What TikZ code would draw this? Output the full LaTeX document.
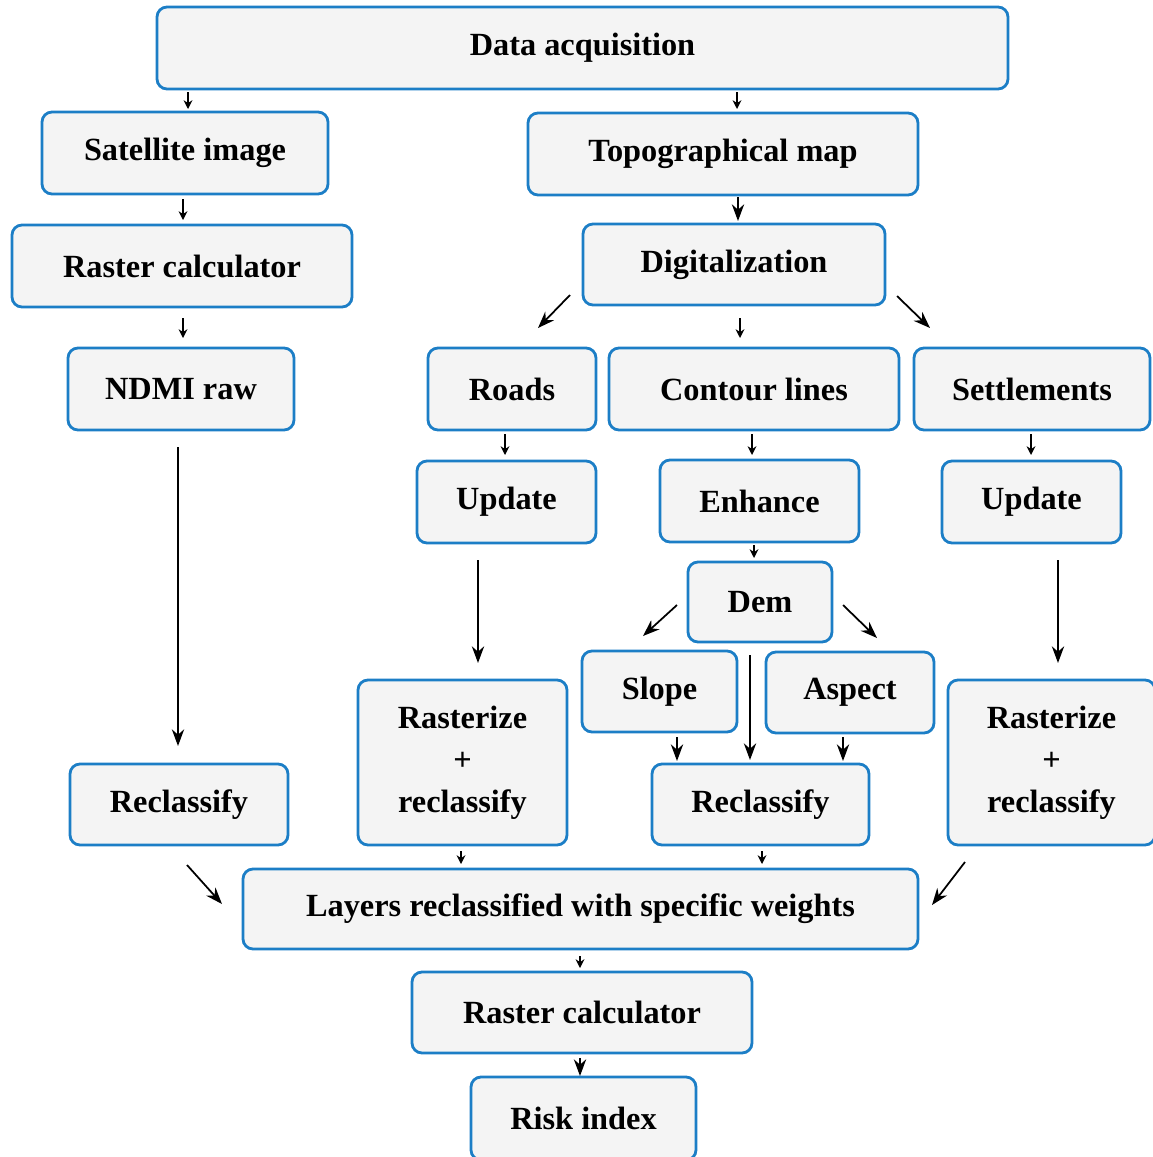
\documentclass[tikz,border=0pt]{standalone}
\usepackage{fontspec}
\setmainfont{Liberation Serif}
\usetikzlibrary{arrows.meta}
\definecolor{bord}{RGB}{28,126,198}
\definecolor{fillc}{RGB}{244,244,244}
\newcommand\mybox[6]{\node[box, minimum width={(#4-#2)*0.02cm}, minimum height={(#5-#3)*0.02cm}] (#1) at ({(#2+#4)/2},{(#3+#5)/2}) {#6};}
\tikzset{
  box/.style={draw=bord, fill=fillc, line width=1.6pt, rounded corners=0.2cm, inner sep=0pt,
    font=\bfseries\fontsize{18.4}{24}\selectfont, align=center},
  arrs/.style={-{Stealth[length=5pt,width=5pt]}, line width=0.9pt},
  arrl/.style={-{Stealth[length=9.5pt,width=7pt]}, line width=1pt},
}
\begin{document}
\begin{tikzpicture}[x=0.02cm,y=-0.02cm]
\useasboundingbox (0,0) rectangle (1153,1157);
\mybox{acq}{157}{7}{1008}{89}{Data acquisition}
\mybox{sat}{42}{112}{328}{194}{Satellite image}
\mybox{topo}{528}{113}{918}{195}{Topographical map}
\mybox{rcl}{12}{225}{352}{307}{Raster calculator}
\mybox{dig}{583}{224}{885}{305}{Digitalization}
\mybox{ndmi}{68}{348}{294}{430}{NDMI raw}
\mybox{roads}{428}{348}{596}{430}{Roads}
\mybox{cont}{609}{348}{899}{430}{Contour lines}
\mybox{sett}{914}{348}{1150}{430}{Settlements}
\mybox{upl}{417}{461}{596}{543}{Update}
\mybox{enh}{660}{460}{859}{542}{Enhance}
\mybox{upr}{942}{461}{1121}{543}{Update}
\mybox{dem}{688}{562}{832}{642}{Dem}
\mybox{slope}{582}{651}{737}{732}{Slope}
\mybox{aspect}{766}{652}{934}{733}{Aspect}
\mybox{rasl}{358}{680}{567}{845}{Rasterize\\+\\reclassify}
\mybox{rasr}{948}{680}{1155}{845}{Rasterize\\+\\reclassify}
\mybox{recl}{70}{764}{288}{845}{Reclassify}
\mybox{recm}{652}{764}{869}{845}{Reclassify}
\mybox{layers}{243}{869}{918}{949}{Layers reclassified with specific weights}
\mybox{rcb}{412}{972}{752}{1053}{Raster calculator}
\mybox{risk}{471}{1077}{696}{1160}{Risk index}
% arrow end points
\foreach \n/\x/\y in {a1/188/92, b1/188/109, a2/737/92, b2/737/109,
  a3/183/199, b3/183/220, a4/738/197, b4/738/221, a5/183/318, b5/183/338,
  a6/570/295, b6/538/328, a7/740/318, b7/740/338, a8/897/296, b8/930/328,
  a9/505/434, b9/505/455, a10/752/434, b10/752/455, a11/1031/434, b11/1031/455,
  a12/754/545, b12/754/558, a13/677/605, b13/643/636, a14/843/605, b14/877/638,
  a15/178/447, b15/178/746, a16/478/560, b16/478/663, a17/1058/560, b17/1058/663,
  a18/750/655, b18/750/760, a19/677/737, b19/677/761, a20/843/737, b20/843/761,
  a21/187/865, b21/222/904, a22/461/851, b22/461/864, a23/762/851, b23/762/864,
  a24/965/862, b24/932/905, a25/580/956, b25/580/968, a26/580/1058, b26/580/1076}
  {\coordinate (\n) at (\x,\y);}
\foreach \i in {1,2,3,5,7,9,10,11,12,22,23,25}
  {\draw[arrs] (a\i) -- (b\i);}
\foreach \i in {4,6,8,13,14,15,16,17,18,19,20,21,24,26}
  {\draw[arrl] (a\i) -- (b\i);}
\end{tikzpicture}
\end{document}
